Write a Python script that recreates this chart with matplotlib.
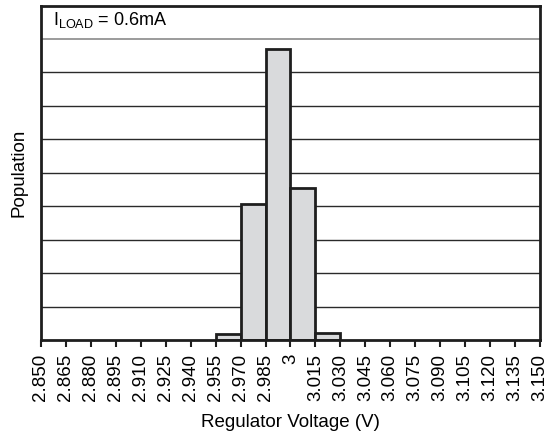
import numpy as np
import matplotlib.pyplot as plt

plt.rcParams['font.family'] = ['Liberation Sans', 'DejaVu Sans']

bin_left = [2.955, 2.970, 2.985, 3.000, 3.015]
population = [0.18, 4.06, 8.69, 4.54, 0.21]
tick_labels = ['2.850', '2.865', '2.880', '2.895', '2.910', '2.925', '2.940',
               '2.955', '2.970', '2.985', '3', '3.015', '3.030', '3.045',
               '3.060', '3.075', '3.090', '3.105', '3.120', '3.135', '3.150']
ticks = np.linspace(2.850, 3.150, len(tick_labels))

fig = plt.figure(figsize=(5.48, 4.37), dpi=100)
ax = fig.add_axes([0.0748, 0.222, 0.9106, 0.7654])

for y in range(1, 9):
    ax.axhline(y, color='#2a2a2a', lw=1.0, zorder=1)
ax.axhline(9, color='#8a8a8a', lw=1.2, zorder=1)

ax.bar(bin_left, population, width=0.015, align='edge', color='#d9dadc',
       edgecolor='#1e1e1e', linewidth=2.0, zorder=2)

ax.set_xlim(2.850, 3.150)
ax.set_ylim(0, 10)
ax.set_xticks(ticks)
ax.set_xticklabels(tick_labels, rotation=90, fontsize=13.5)
ax.set_yticks([])
ax.tick_params(axis='x', length=5, width=1.5, color='#1e1e1e', pad=5)
for s in ax.spines.values():
    s.set_linewidth(2.0)
    s.set_color('#1e1e1e')

ax.set_xlabel('Regulator Voltage (V)', fontsize=13.5, labelpad=9)
ax.set_ylabel('Population', fontsize=13.5, labelpad=10)
ax.text(0.024, 0.958, r'I$_{\mathregular{LOAD}}$ = 0.6mA', transform=ax.transAxes,
        fontsize=13, va='center', ha='left')

fig.savefig('out.png', dpi=100)
